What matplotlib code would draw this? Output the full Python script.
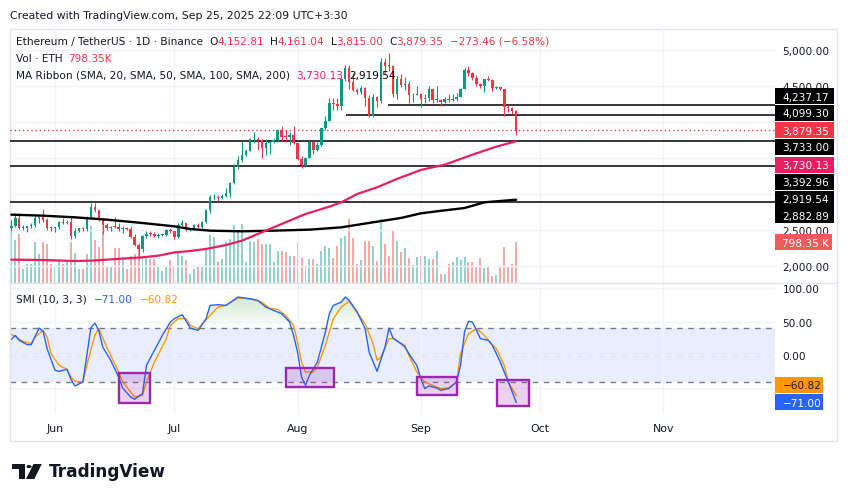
import matplotlib
matplotlib.use('Agg')
import matplotlib.pyplot as plt
import matplotlib.dates as mdates
from matplotlib.patches import Rectangle, Polygon, Circle
from matplotlib.path import Path
from matplotlib.ticker import FuncFormatter, FixedLocator
import numpy as np
import pandas as pd

# ---------------- data ----------------
start_date = '2025-05-21'

opens = [2525, 2551, 2663, 2526, 2530, 2550, 2565, 2660, 2683, 2632,
         2530, 2527, 2540, 2610, 2595, 2607, 2415, 2483, 2525, 2508,
         2680, 2815, 2770, 2645, 2575, 2525, 2545, 2540, 2510, 2525,
         2515, 2405, 2295, 2230, 2410, 2450, 2440, 2415, 2425, 2435,
         2500, 2485, 2405, 2570, 2590, 2510, 2515, 2570, 2540, 2615,
         2770, 2950, 2960, 2940, 2970, 3015, 3145, 3375, 3475, 3545,
         3595, 3755, 3765, 3745, 3630, 3705, 3720, 3745, 3880, 3795,
         3790, 3810, 3700, 3485, 3395, 3495, 3720, 3610, 3680, 3910,
         4010, 4260, 4250, 4220, 4600, 4750, 4550, 4440, 4420, 4475,
         4330, 4075, 4350, 4290, 4835, 4790, 4775, 4380, 4600, 4505,
         4520, 4365, 4375, 4390, 4310, 4330, 4450, 4300, 4305, 4275,
         4310, 4305, 4310, 4350, 4460, 4715, 4670, 4605, 4525, 4500,
         4590, 4585, 4470, 4480, 4450, 4200, 4195, 4152.81]
highs = [2640, 2735, 2734, 2570, 2560, 2590, 2715, 2690, 2790, 2660,
         2550, 2545, 2620, 2660, 2640, 2680, 2525, 2530, 2535, 2690,
         2880, 2880, 2780, 2650, 2590, 2560, 2680, 2590, 2550, 2545,
         2560, 2440, 2320, 2425, 2480, 2485, 2475, 2460, 2440, 2510,
         2525, 2490, 2600, 2640, 2600, 2530, 2585, 2590, 2630, 2790,
         2990, 3000, 2980, 3000, 3080, 3160, 3420, 3520, 3740, 3620,
         3780, 3860, 3790, 3760, 3760, 3730, 3775, 3890, 3945, 3880,
         3865, 3940, 3710, 3530, 3510, 3735, 3730, 3725, 3920, 4080,
         4330, 4330, 4335, 4620, 4790, 4785, 4680, 4475, 4500, 4480,
         4370, 4380, 4355, 4885, 4890, 4955, 4790, 4640, 4660, 4620,
         4560, 4395, 4490, 4400, 4380, 4490, 4470, 4490, 4320, 4340,
         4380, 4385, 4400, 4475, 4740, 4770, 4690, 4650, 4535, 4600,
         4640, 4590, 4490, 4480, 4455, 4230, 4200, 4161.04]
lows = [2485, 2545, 2510, 2500, 2465, 2530, 2540, 2600, 2615, 2500,
        2490, 2475, 2515, 2585, 2580, 2380, 2385, 2470, 2490, 2485,
        2655, 2745, 2630, 2440, 2500, 2490, 2525, 2490, 2460, 2495,
        2385, 2280, 2110, 2200, 2390, 2410, 2400, 2390, 2415, 2420,
        2460, 2375, 2395, 2560, 2490, 2490, 2500, 2525, 2520, 2600,
        2735, 2920, 2905, 2930, 2960, 2960, 3135, 3340, 3445, 3520,
        3590, 3700, 3615, 3500, 3535, 3560, 3710, 3720, 3730, 3720,
        3680, 3690, 3470, 3355, 3370, 3495, 3555, 3590, 3670, 3890,
        4010, 4160, 4170, 4170, 4560, 4455, 4430, 4390, 4390, 4225,
        4070, 4060, 4210, 4260, 4670, 4700, 4350, 4310, 4480, 4440,
        4260, 4270, 4370, 4210, 4260, 4290, 4260, 4270, 4220, 4255,
        4280, 4290, 4290, 4340, 4450, 4630, 4580, 4490, 4470, 4410,
        4560, 4430, 4450, 4440, 4085, 4130, 4110, 3815.00]
closes = [2551, 2663, 2526, 2530, 2550, 2565, 2660, 2683, 2632, 2530,
          2527, 2540, 2610, 2595, 2607, 2415, 2483, 2525, 2508, 2680,
          2815, 2770, 2645, 2575, 2525, 2545, 2540, 2510, 2525, 2515,
          2405, 2295, 2230, 2410, 2450, 2440, 2415, 2425, 2435, 2500,
          2485, 2405, 2570, 2590, 2510, 2515, 2570, 2540, 2615, 2770,
          2950, 2960, 2940, 2970, 3015, 3145, 3375, 3475, 3545, 3595,
          3755, 3765, 3745, 3630, 3705, 3720, 3745, 3880, 3795, 3790,
          3810, 3700, 3485, 3395, 3495, 3720, 3610, 3680, 3910, 4010,
          4260, 4250, 4220, 4600, 4750, 4550, 4440, 4420, 4475, 4330,
          4075, 4350, 4290, 4835, 4780, 4775, 4380, 4600, 4510, 4520,
          4365, 4375, 4390, 4310, 4330, 4450, 4300, 4305, 4275, 4310,
          4305, 4310, 4350, 4460, 4715, 4670, 4605, 4525, 4500, 4590,
          4585, 4470, 4480, 4450, 4200, 4195, 4152.81, 3879.35]
volumes_k = [995, 851, 962, 275, 373, 373, 811, 569, 811, 766,
             373, 340, 471, 373, 406, 811, 589, 275, 275, 569,
             1126, 844, 700, 1126, 340, 308, 687, 687, 504, 275,
             537, 569, 700, 537, 524, 471, 471, 340, 242, 308,
             452, 327, 622, 524, 458, 177, 275, 340, 340, 681,
             942, 897, 406, 471, 798, 864, 1139, 1027, 1158, 406,
             831, 798, 864, 766, 766, 766, 419, 628, 628, 602,
             537, 537, 785, 484, 327, 471, 471, 373, 635, 733,
             687, 484, 733, 877, 929, 1256, 877, 373, 458, 825,
             825, 733, 438, 1256, 766, 537, 1027, 831, 602, 681,
             484, 353, 504, 524, 524, 471, 471, 628, 177, 177,
             373, 406, 504, 458, 504, 419, 419, 327, 484, 288,
             327, 144, 157, 340, 700, 340, 373, 798.35]

# moving averages (day offset from start, value)
sma100_days = [0, 8, 16, 20, 24, 33, 37, 41, 45, 49, 54, 58, 62, 66, 70, 74,
               80, 83, 87, 92, 97, 103, 109, 116, 122, 127]
sma100_vals = [2088, 2083, 2069, 2074, 2088, 2120, 2143, 2189, 2208, 2236, 2291,
               2351, 2444, 2536, 2629, 2721, 2823, 2883, 2999, 3091, 3207, 3332,
               3405, 3544, 3655, 3730.13]
sma200_days = [0, 8, 16, 24, 33, 41, 45, 50, 58, 66, 75, 83, 91, 98, 103, 108,
               114, 119, 127]
sma200_vals = [2712, 2698, 2675, 2643, 2596, 2550, 2513, 2490, 2481, 2490, 2504,
               2536, 2606, 2666, 2730, 2765, 2804, 2883, 2919.54]

# horizontal levels drawn on chart
levels = [4237.17, 4099.30, 3733.00, 3392.96, 2882.89]
level_start_days = [94.8, 84.2, -5, -5, -5]

# price-axis ticks and which of them show a label (others are covered by tags)
price_ticks = [2000, 2500, 3000, 3500, 4000, 4500, 5000]
price_tick_labels = [2000, 2500, 4500, 5000]
smi_ticks = [100, 50, 0, -50]
smi_tick_labels = [100, 50, 0]

# SMI (10,3,3)
smi_days = [0, 1, 2, 4, 5, 7, 8, 9, 11, 12, 14, 15, 16, 18, 19, 20, 21, 22, 23, 25,
            27, 28, 30, 31, 33, 34, 36, 38, 40, 41, 43, 45, 47, 49, 50, 52, 54, 57, 60, 62,
            64, 66, 68, 70, 71, 72, 73, 74, 75, 77, 79, 80, 81, 83, 84, 85, 87, 89, 90, 92,
            94, 95, 96, 98, 99, 100, 102, 103, 104, 105, 107, 108, 110, 112, 113, 114, 115,
            116, 118, 120, 121, 123, 125, 126, 127]
smi_vals = [23.5, 29.5, 22, 15.5, 15.5, 40.5, 35.5, 9.5, -23, -24.5,
            -21.5, -36.5, -46.5, -40.5, -0.5, 40.5, 48, 37, 12, -8,
            -33, -49.5, -63, -66.5, -58, -15.5, 7, 29.5, 49.5, 54.5,
            60.5, 40.5, 37, 54.5, 74.5, 75.5, 74.5, 87, 84.5, 82,
            72, 67, 62, 49.5, 29.5, 4.5, -33, -45.5, -30.5, -10.5,
            34.5, 62, 74.5, 79.5, 87, 82, 64.5, 39.5, 4.5, -24.5,
            12, 40.5, 25.5, 17, 12, 2, -15.5, -35.5, -50.5, -46.5,
            -49.5, -53, -50.5, -40.5, -15.5, 34.5, 50.5, 49.5, 24.5, 22,
            14.5, -10.5, -40.5, -55.5, -71.00]
signal_days = [0, 1, 3, 5, 6, 8, 9, 10, 12, 14, 15, 16, 18, 19, 21, 22, 24, 27, 28, 30,
               31, 33, 34, 36, 39, 40, 42, 44, 45, 47, 50, 52, 54, 57, 60, 63, 65, 67, 69, 71,
               72, 73, 74, 76, 77, 79, 81, 83, 85, 86, 89, 91, 92, 93, 95, 96, 99, 100, 102, 104,
               106, 108, 110, 112, 113, 115, 117, 119, 120, 122, 124, 125, 127]
signal_vals = [31, 27, 20.5, 17, 27, 37, 27, 2, -15.5, -21.5,
               -33, -39.5, -40.5, -15.5, 29.5, 39.5, 12, -25.5, -40.5, -55.5,
               -63, -60.5, -40.5, -10.5, 24.5, 44.5, 54.5, 54.5, 44.5, 39.5,
               59.5, 72, 74.5, 85.5, 84.5, 79.5, 70, 68.5, 59.5, 44.5,
               19.5, -10.5, -25.5, -25.5, -18, 14.5, 54.5, 72, 80.5, 72,
               47, 17, -8, -3, 24.5, 24.5, 14.5, -0.5, -25.5, -40.5,
               -45.5, -50.5, -49.5, -40.5, 2, 32, 39.5, 29.5, 22, 9.5,
               -15.5, -40.5, -60.82]

# drawn boxes on SMI pane (day offsets, values)
box_start = [27.0, 69.0, 102.0, 122.1]
box_end = [35.0, 81.2, 112.1, 130.3]
box_top = [-27, -19, -32.6, -37]
box_bottom = [-72, -48, -60, -76.6]

# ---------------- figure ----------------
W, H = 848, 502
fig = plt.figure(figsize=(W / 100, H / 100), dpi=100)
fig.patch.set_facecolor('white')
plt.rcParams['font.family'] = ['DejaVu Sans']

DARK = '#131722'
GREEN, RED = '#089981', '#F23645'
PINK = '#E91E63'
FS = 7.6


def rect(x0, y0, x1, y1):
    return [x0 / W, 1 - y1 / H, (x1 - x0) / W, (y1 - y0) / H]


t0 = mdates.date2num(pd.Timestamp(start_date))
n = len(closes)
xd = t0 + np.arange(n)
XL = (t0 - 0.33, t0 + 192.1)

o = np.array(opens, float)
c = np.array(closes, float)
hi = np.array(highs, float)
lo = np.array(lows, float)
up = c >= o
col = np.where(up, GREEN, RED)

# volume axes (behind)
axv = fig.add_axes(rect(10, 30, 775, 284))
axv.bar(xd, volumes_k, width=0.5, color=np.where(up, '#92D2CC', '#F7A9A7'), linewidth=0)
axv.set_xlim(*XL)
axv.set_ylim(0, volumes_k[-1] * 254 / 40.67)
axv.axis('off')

# price axes
ax = fig.add_axes(rect(10, 30, 775, 283.5))
ax.set_zorder(axv.get_zorder() + 1)
ax.patch.set_visible(False)
ax.vlines(xd, lo, hi, colors=col, lw=0.8, zorder=3)
ax.bar(xd, np.maximum(np.abs(c - o), 12), bottom=np.minimum(o, c), width=0.62,
       color=col, linewidth=0, zorder=4)
ax.plot(t0 + np.array(sma200_days), sma200_vals, color='#000000', lw=1.7, zorder=5,
        solid_capstyle='round')
ax.plot(t0 + np.array(sma100_days), sma100_vals, color=PINK, lw=1.6, zorder=5,
        solid_capstyle='round')
for lv, sd in zip(levels, level_start_days):
    ax.hlines(lv, t0 + sd, XL[1] + 5, color='#000000', lw=1.1, zorder=2)
ax.axhline(closes[-1], color=RED, lw=1, ls=(0, (1, 2)), zorder=2)
ax.set_xlim(*XL)
ax.set_ylim(1771, 5287)
ax.yaxis.tick_right()
ax.yaxis.set_major_locator(FixedLocator(price_ticks))
ax.yaxis.set_major_formatter(FuncFormatter(
    lambda v, p: f'{v:,.2f}' if round(v) in price_tick_labels else ''))
ax.tick_params(axis='y', length=0, pad=5.5, labelsize=FS, labelcolor=DARK)
ax.xaxis.set_major_locator(mdates.MonthLocator())
ax.tick_params(axis='x', length=0, labelbottom=False)
ax.grid(True, color='#F0F3FA', lw=1, zorder=0)
for s in ax.spines.values():
    s.set_visible(False)

# SMI axes
ax2 = fig.add_axes(rect(10, 284, 775, 415))
ax2.axhspan(-40, 40, color='#2962FF', alpha=0.1, lw=0, zorder=0.5)
ax2.axhline(40, color='#787B86', lw=1, ls=(0, (4, 4)), zorder=1)
ax2.axhline(-40, color='#787B86', lw=1, ls=(0, (4, 4)), zorder=1)
ax2.axhline(0, color='#787B86', alpha=0.5, lw=1, ls=(0, (4, 4)), zorder=1)
sx = t0 + np.array(smi_days, float)
sv = np.array(smi_vals, float)
fb = ax2.fill_between(sx, 40, sv, where=sv > 40, interpolate=True,
                      facecolor='none', edgecolor='none')
paths = fb.get_paths()
if len(paths):
    cp = Path.make_compound_path(*paths)
    grad = np.zeros((256, 1, 4))
    grad[..., 0], grad[..., 1], grad[..., 2] = 76 / 255, 175 / 255, 80 / 255
    grad[:, 0, 3] = np.linspace(0.30, 0.0, 256)
    im = ax2.imshow(grad, extent=[XL[0], XL[1], 40, 92], aspect='auto', origin='upper',
                    zorder=1, interpolation='bilinear')
    im.set_clip_path(cp, transform=ax2.transData)
for b0, b1, bt, bb in zip(box_start, box_end, box_top, box_bottom):
    ax2.add_patch(Rectangle((t0 + b0, bb), b1 - b0, bt - bb, facecolor=(0.612, 0.153, 0.69, 0.2),
                            edgecolor='#9C27B0', lw=1.7, zorder=4))
ax2.plot(t0 + np.array(signal_days), signal_vals, color='#FF9800', lw=1.0, zorder=3)
ax2.plot(sx, sv, color='#2962FF', lw=1.0, zorder=3)
ax2.set_xlim(*XL)
ax2.set_ylim(-88.6, 108.1)
ax2.yaxis.tick_right()
ax2.yaxis.set_major_locator(FixedLocator(smi_ticks))
ax2.yaxis.set_major_formatter(FuncFormatter(
    lambda v, p: (f'{v:.2f}'.replace('-', '\u2212')) if round(v) in smi_tick_labels else ''))
ax2.tick_params(axis='y', length=0, pad=5.5, labelsize=FS, labelcolor=DARK)
ax2.xaxis.set_major_locator(mdates.MonthLocator())
ax2.xaxis.set_major_formatter(mdates.DateFormatter('%b'))
ax2.tick_params(axis='x', length=0, pad=6.5, labelsize=FS + 0.3, labelcolor=DARK)
ax2.grid(True, color='#F0F3FA', lw=1, zorder=0)
for s in ax2.spines.values():
    s.set_visible(False)

# frame
fig.add_artist(Rectangle((10 / W, 1 - 441.5 / H), 827 / W, 411.5 / H, fill=False,
                         ec='#E0E3EB', lw=1, transform=fig.transFigure, zorder=1))
fig.add_artist(plt.Line2D([10 / W, 837 / W], [1 - 283.8 / H] * 2, color='#E0E3EB', lw=1,
                          transform=fig.transFigure, zorder=1))

# right-side tags
def tag(text, yc, bg, fg='white', x1=834, h=16):
    fig.add_artist(Rectangle((775 / W, 1 - (yc + h / 2) / H), (x1 - 775) / W, h / H,
                             transform=fig.transFigure, fc=bg, ec='none', zorder=10))
    fig.text(782.5 / W, 1 - (yc + 0.3) / H, text, color=fg, fontsize=FS, ha='left',
             va='center', zorder=11)


tag_values = [levels[0], levels[1], closes[-1], levels[2], sma100_vals[-1], levels[3],
              sma200_vals[-1], levels[4]]
tag_colors = ['#000000', '#000000', RED, '#000000', PINK, '#000000', '#000000', '#000000']
tag_y = [97.2, 113.8, 131.2, 148.0, 165.5, 182.5, 200.0, 216.3]
for v, cc, yy in zip(tag_values, tag_colors, tag_y):
    tag(f'{v:,.2f}', yy, cc)
tag(f'{volumes_k[-1]:.2f} K', 243.3, '#F05B5B', x1=832)
tag(f'{signal_vals[-1]:.2f}'.replace('-', '\u2212'), 385.5, '#FF9800', fg=DARK, x1=823)
tag(f'{smi_vals[-1]:.2f}'.replace('-', '\u2212'), 403.3, '#2962FF', x1=823)

# texts
renderer = fig.canvas.get_renderer()


def seq_text(x, y, pieces, size=FS):
    for s, cc, gap in pieces:
        t = fig.text(x / W, 1 - y / H, s, color=cc, fontsize=size, ha='left', va='center',
                     zorder=12)
        x += t.get_window_extent(renderer).width + gap


def fmt(v):
    return f'{v:,.2f}'.replace('-', '\u2212')


chg = closes[-1] - closes[-2]
pct = chg / closes[-2] * 100
fig.text(10 / W, 1 - 16 / H, 'Created with TradingView.com, Sep 25, 2025 22:09 UTC+3:30',
         color=DARK, fontsize=7.8, ha='left', va='center')
seq_text(16, 42, [('Ethereum / TetherUS \u00b7 1D \u00b7 Binance', DARK, 6),
                  ('O', DARK, 0), (fmt(opens[-1]), RED, 6),
                  ('H', DARK, 0), (fmt(highs[-1]), RED, 6),
                  ('L', DARK, 0), (fmt(lows[-1]), RED, 6),
                  ('C', DARK, 0), (fmt(closes[-1]), RED, 6),
                  (f'{fmt(chg)} ({fmt(pct)}%)', RED, 0)])
seq_text(16, 59, [('Vol \u00b7 ETH', DARK, 6), (f'{volumes_k[-1]:.2f}K', RED, 0)])
seq_text(16, 76, [('MA Ribbon (SMA, 20, SMA, 50, SMA, 100, SMA, 200)', DARK, 6),
                  (fmt(sma100_vals[-1]), PINK, 6), (fmt(sma200_vals[-1]), '#000000', 0)])
seq_text(16, 300, [('SMI (10, 3, 3)', DARK, 7), (fmt(smi_vals[-1]), '#2962FF', 7),
                   (fmt(signal_vals[-1]), '#FF9800', 0)])

# TradingView logo
def P(x, y):
    return (x / W, 1 - y / H)


fig.add_artist(Polygon([P(12, 465), P(24.5, 465), P(24.5, 480), P(18.5, 480), P(18.5, 470.3),
                        P(12, 470.3)], closed=True, fc='#131722', ec='none',
                       transform=fig.transFigure))
fig.add_artist(Polygon([P(33.5, 465), P(41.8, 465), P(34.3, 480), P(26, 480)], closed=True,
                       fc='#131722', ec='none', transform=fig.transFigure))
fig.add_artist(Circle(P(29.0, 467.6), 2.6 / W, fc='#131722', ec='none',
                      transform=fig.transFigure))
fig.text(49 / W, 1 - 476.8 / H, 'TradingView', color='#131722', fontsize=12.2,
         fontweight='bold', ha='left', va='baseline')

fig.savefig('out.png', dpi=100, facecolor='white')
